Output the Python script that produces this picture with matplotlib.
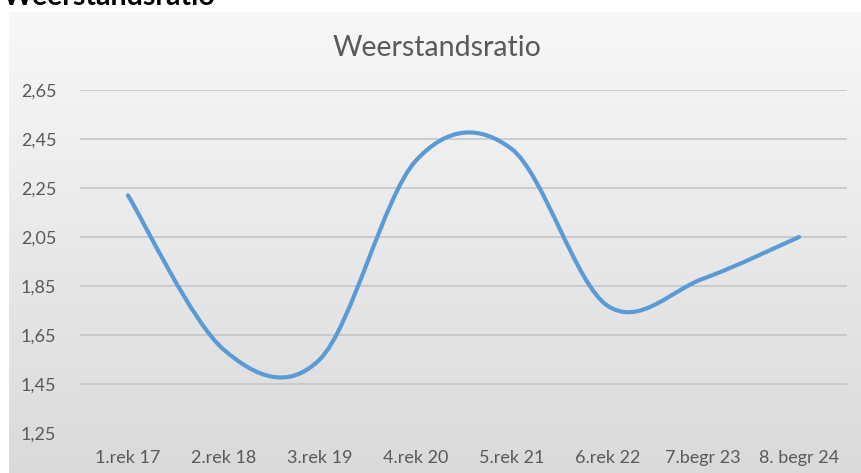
import numpy as np
import matplotlib.pyplot as plt
from matplotlib.path import Path
from matplotlib.patches import PathPatch
from matplotlib.colors import LinearSegmentedColormap

plt.rcParams['font.family'] = ['Lato', 'DejaVu Sans']

# data
categories = ['1.rek 17', '2.rek 18', '3.rek 19', '4.rek 20',
              '5.rek 21', '6.rek 22', '7.begr 23', '8. begr 24']
values = [2.22, 1.59, 1.55, 2.36, 2.41, 1.77, 1.88, 2.05]
yticks = [1.25, 1.45, 1.65, 1.85, 2.05, 2.25, 2.45, 2.65]
ytick_labels = ['1,25', '1,45', '1,65', '1,85', '2,05', '2,25', '2,45', '2,65']

W, H = 861, 473
fig = plt.figure(figsize=(W / 100, H / 100), dpi=100)

# grey gradient chart area
bg = fig.add_axes([9 / W, 0, 1 - 9 / W, 1 - 12 / H], zorder=0)
cmap = LinearSegmentedColormap.from_list('bg', ['#f8f8f8', '#dadada'])
bg.imshow(np.linspace(0, 1, 256).reshape(-1, 1), cmap=cmap, aspect='auto',
          extent=[0, 1, 0, 1])
bg.axis('off')

# bold heading, cut off at the top edge (as in the source screenshot)
fig.text(3 / W, 1 - 5 / H, 'Weerstandsratio', fontsize=20.5, fontweight='bold',
         color='black', va='baseline', ha='left')

ax = fig.add_axes([80 / W, 1 - 433 / H, 767 / W, 343 / H], zorder=1)
ax.patch.set_alpha(0)

# smoothed line (Catmull-Rom style bezier through the points)
x = np.arange(len(values), dtype=float)
y = np.array(values)
verts = [(x[0], y[0])]
codes = [Path.MOVETO]
n = len(x)
for i in range(n - 1):
    p0 = max(i - 1, 0)
    p3 = min(i + 2, n - 1)
    c1 = (x[i] + (x[i + 1] - x[p0]) / 6, y[i] + (y[i + 1] - y[p0]) / 6)
    c2 = (x[i + 1] - (x[p3] - x[i]) / 6, y[i + 1] - (y[p3] - y[i]) / 6)
    verts += [c1, c2, (x[i + 1], y[i + 1])]
    codes += [Path.CURVE4] * 3
ax.add_patch(PathPatch(Path(verts, codes), facecolor='none',
                       edgecolor='#5b9bd5', lw=3, capstyle='round',
                       joinstyle='round', zorder=3))

ax.set_xlim(-0.5, n - 0.5)
ax.set_ylim(1.25, 2.65)
ax.set_xticks(x)
ax.set_xticklabels(categories)
ax.set_yticks(yticks)
ax.set_yticklabels(ytick_labels)
for yt in yticks[1:]:
    ax.axhline(yt, color='#c6c6c6', lw=1.2, zorder=1)
ax.tick_params(length=0, labelsize=13, labelcolor='#595959')
ax.tick_params(axis='y', pad=17)
ax.tick_params(axis='x', pad=12)
for s in ax.spines.values():
    s.set_visible(False)

fig.text(437 / W, 1 - 48 / H, 'Weerstandsratio', ha='center', va='center',
         fontsize=20.5, color='#595959')

fig.savefig('out.png', dpi=100)
